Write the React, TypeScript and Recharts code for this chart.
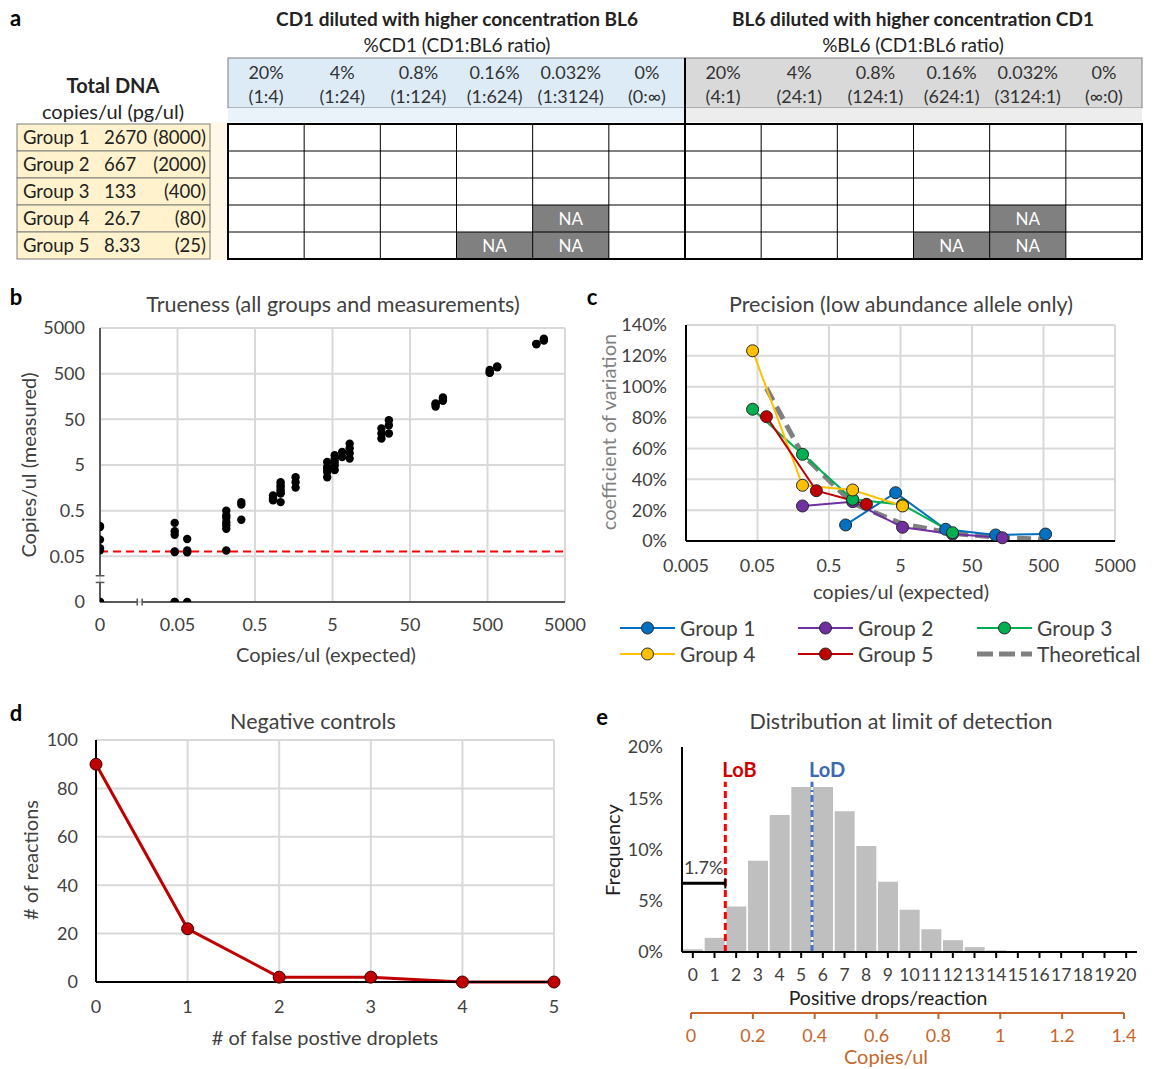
import React from "react";
import {
  ScatterChart,
  Scatter,
  LineChart,
  Line,
  BarChart,
  Bar,
  XAxis,
  YAxis,
  CartesianGrid,
  ReferenceLine,
} from "recharts";

const FONT = "Lato, 'Open Sans', 'DejaVu Sans', sans-serif";
const INK = "#404040";
const GRID = "#D9D9D9";
const ORANGE = "#C8662A";

// ---------- panel a: design table ----------
const cd1Percent = ["20%", "4%", "0.8%", "0.16%", "0.032%", "0%"];
const cd1Ratio = ["(1:4)", "(1:24)", "(1:124)", "(1:624)", "(1:3124)", "(0:∞)"];
const bl6Percent = ["20%", "4%", "0.8%", "0.16%", "0.032%", "0%"];
const bl6Ratio = ["(4:1)", "(24:1)", "(124:1)", "(624:1)", "(3124:1)", "(∞:0)"];
const groupNames = ["Group 1", "Group 2", "Group 3", "Group 4", "Group 5"];
const groupCopies = ["2670", "667", "133", "26.7", "8.33"];
const groupPg = ["(8000)", "(2000)", "(400)", "(80)", "(25)"];
// [row, column] of NA cells, same in both halves
const naCells = [
  [3, 4],
  [4, 3],
  [4, 4],
];

// ---------- panel b: trueness ----------
const ZERO_AT = 0.005; // "0" sits one decade below 0.05 on the log axes
const logTicks = [0.005, 0.05, 0.5, 5, 50, 500, 5000];
const expectedLevels = [
  0, 0.046, 0.0667, 0.213, 0.333, 0.854, 1.07, 1.67, 4.27, 5.34, 6.66, 8.33,
  21.4, 26.7, 107, 133, 534, 667, 2136, 2670,
];
const measuredByLevel = [
  [0.23, 0.22, 0.116, 0.075, 0.068, 0, 0],
  [0.27, 0.177, 0.148, 0.064, 0.062, 0, 0],
  [0.12, 0.067, 0.061, 0],
  [0.5, 0.39, 0.35, 0.28, 0.24, 0.2, 0.067],
  [0.77, 0.68, 0.316],
  [1.08, 0.91, 0.84, 0.95],
  [2.1, 1.8, 1.4, 1.2, 0.77, 1.6, 1.2],
  [2.7, 2.1, 1.6],
  [5.8, 4.5, 4.1, 3.5, 2.7],
  [8.2, 6.9, 5.8, 4.9, 3.9],
  [9.7, 7.5],
  [14.7, 11.6, 9.0, 6.9],
  [31.5, 24.5, 19],
  [48, 37, 24.5],
  [112, 95, 105],
  [150, 128, 140],
  [600, 530, 520],
  [715, 690],
  [2250, 2200],
  [2750, 2900, 2650],
];
const lobCopies = 0.064;

// ---------- panel c: precision ----------
const group1X = [0.854, 4.27, 21.4, 107, 534];
const group1CV = [0.104, 0.313, 0.076, 0.039, 0.045];
const group2X = [0.213, 1.07, 5.34, 26.7, 133];
const group2CV = [0.227, 0.255, 0.089, 0.045, 0.021];
const group3X = [0.0427, 0.213, 1.07, 5.34, 26.7];
const group3CV = [0.854, 0.562, 0.27, 0.235, 0.054];
const group4X = [0.0427, 0.213, 1.07, 5.34];
const group4CV = [1.233, 0.361, 0.331, 0.227];
const group5X = [0.0667, 0.333, 1.67];
const group5CV = [0.806, 0.326, 0.238];
const theoryX = [0.0667, 0.213, 1.07, 5.34, 26.7, 133, 534];
const theoryCV = [0.99, 0.56, 0.245, 0.11, 0.049, 0.022, 0.011];
const cvTicks = [0, 0.2, 0.4, 0.6, 0.8, 1, 1.2, 1.4];

// ---------- panel d: negative controls ----------
const falsePositives = [0, 1, 2, 3, 4, 5];
const reactionCounts = [90, 22, 2, 2, 0, 0];

// ---------- panel e: distribution at LoD ----------
const dropCounts = [0, 1, 2, 3, 4, 5, 6, 7, 8, 9, 10, 11, 12, 13, 14, 15, 16, 17, 18, 19, 20];
const dropFreq = [
  0.0027, 0.0138, 0.0445, 0.089, 0.1337, 0.161, 0.161, 0.1372, 0.1035, 0.0685,
  0.0413, 0.0222, 0.0115, 0.0048, 0.0016, 0.0005, 0.0002, 0, 0, 0, 0,
];
const lobDrops = 1.5;
const lodDrops = 5.5;
const belowLobShare = "1.7%";
const copiesTicks = [0, 0.2, 0.4, 0.6, 0.8, 1, 1.2, 1.4];

const truenessData = expectedLevels.flatMap((e, i) =>
  measuredByLevel[i].map((m) => ({ x: e === 0 ? ZERO_AT : e, y: m === 0 ? ZERO_AT : m }))
);
const toPoints = (xs: number[], ys: number[]) => xs.map((x, i) => ({ x, cv: ys[i] }));
const precisionSeries = [
  { name: "Group 1", color: "#0070C0", data: toPoints(group1X, group1CV) },
  { name: "Group 2", color: "#7030A0", data: toPoints(group2X, group2CV) },
  { name: "Group 3", color: "#00B050", data: toPoints(group3X, group3CV) },
  { name: "Group 4", color: "#FFC000", data: toPoints(group4X, group4CV) },
  { name: "Group 5", color: "#C00000", data: toPoints(group5X, group5CV) },
];
const theoryData = toPoints(theoryX, theoryCV);
const negData = falsePositives.map((x, i) => ({ x, n: reactionCounts[i] }));
const distData = dropCounts.map((d, i) => ({ drops: d, freq: dropFreq[i] }));
const copiesData = copiesTicks.map((cu) => ({ cu, y: 0 }));

const tick = { fill: INK, fontSize: 18, fontFamily: FONT };
const pct = (v: number) => `${Math.round(v * 100)}%`;
const fmtLog = (v: number) => (v === ZERO_AT ? "0" : String(v));

function T({ x, y, size = 20, bold = false, color = INK, rotate = 0, children }: any) {
  return (
    <div
      style={{
        position: "absolute",
        left: x,
        top: y,
        transform: `translate(-50%, -50%) rotate(${rotate}deg)`,
        whiteSpace: "nowrap",
        fontFamily: FONT,
        fontSize: size,
        fontWeight: bold ? 700 : 400,
        color,
        lineHeight: 1,
      }}
    >
      {children}
    </div>
  );
}

function Box({ left, top, children }: any) {
  return <div style={{ position: "absolute", left, top }}>{children}</div>;
}

function DesignTable() {
  const x0 = 228;
  const mid = 685;
  const x1 = 1142;
  const colW = (mid - x0) / 6;
  const top = 124;
  const rowH = 27;
  const halves = [
    { left: x0, pcts: cd1Percent, ratios: cd1Ratio, fill: "#DDEBF7", strip: "#EAF2FA" },
    { left: mid, pcts: bl6Percent, ratios: bl6Ratio, fill: "#D9D9D9", strip: "#EDEDED" },
  ];
  return (
    <svg width={1159} height={265} style={{ position: "absolute", left: 0, top: 0 }} fontFamily={FONT}>
      <text x={10} y={26} fontSize={22} fontWeight={700} fill="#000">a</text>
      <text x={457} y={26} fontSize={19} fontWeight={700} fill="#222" textAnchor="middle">
        CD1 diluted with higher concentration BL6
      </text>
      <text x={457} y={52} fontSize={19} fill="#222" textAnchor="middle">%CD1 (CD1:BL6 ratio)</text>
      <text x={913} y={26} fontSize={19} fontWeight={700} fill="#222" textAnchor="middle">
        BL6 diluted with higher concentration CD1
      </text>
      <text x={913} y={52} fontSize={19} fill="#222" textAnchor="middle">%BL6 (CD1:BL6 ratio)</text>
      <text x={113} y={93} fontSize={20} fontWeight={700} fill="#222" textAnchor="middle">Total DNA</text>
      <text x={113} y={119} fontSize={20} fill="#222" textAnchor="middle">copies/ul (pg/ul)</text>

      {halves.map((h, k) => (
        <g key={k}>
          <rect x={h.left} y={58} width={mid - x0} height={50} fill={h.fill} stroke="#7F7F7F" strokeWidth={1} />
          <rect x={h.left} y={108} width={mid - x0} height={14} fill={h.strip} />
          {h.pcts.map((p, i) => (
            <g key={i}>
              <text x={h.left + colW * (i + 0.5)} y={79} fontSize={18} fill="#333" textAnchor="middle">{p}</text>
              <text x={h.left + colW * (i + 0.5)} y={103} fontSize={18} fill="#333" textAnchor="middle">{h.ratios[i]}</text>
            </g>
          ))}
          {naCells.map(([r, c], i) => (
            <g key={`na${i}`}>
              <rect x={h.left + colW * c} y={top + rowH * r} width={colW} height={rowH} fill="#808080" />
              <text x={h.left + colW * (c + 0.5)} y={top + rowH * r + 20} fontSize={17} fill="#fff" textAnchor="middle">NA</text>
            </g>
          ))}
        </g>
      ))}

      <rect x={210} y={122} width={18} height={138} fill="#FFF8E6" />
      {groupNames.map((g, i) => (
        <g key={g}>
          <rect x={17} y={top + rowH * i} width={193} height={rowH} fill="#FFF2CC" stroke="#7F7F7F" strokeWidth={1} />
          <text x={23} y={top + rowH * i + 20} fontSize={18.5} fill="#222">{g}</text>
          <text x={104} y={top + rowH * i + 20} fontSize={18.5} fill="#222">{groupCopies[i]}</text>
          <text x={206} y={top + rowH * i + 20} fontSize={18.5} fill="#222" textAnchor="end">{groupPg[i]}</text>
        </g>
      ))}

      {/* grid of the table */}
      {[1, 2, 3, 4].map((r) => (
        <line key={`h${r}`} x1={x0} x2={x1} y1={top + rowH * r} y2={top + rowH * r} stroke="#000" strokeWidth={1} />
      ))}
      {Array.from({ length: 11 }, (_, i) => i + 1)
        .filter((i) => i !== 6)
        .map((i) => (
          <line key={`v${i}`} x1={x0 + colW * i} x2={x0 + colW * i} y1={top} y2={top + rowH * 5} stroke="#000" strokeWidth={1} />
        ))}
      <line x1={mid} x2={mid} y1={58} y2={top + rowH * 5} stroke="#000" strokeWidth={2} />
      <rect x={x0} y={top} width={x1 - x0} height={rowH * 5} fill="none" stroke="#000" strokeWidth={2} />
    </svg>
  );
}

function TruenessChart() {
  const axis = { stroke: "#595959", strokeWidth: 2, ifOverflow: "visible" as const };
  return (
    <ScatterChart width={600} height={390} margin={{ top: 48, right: 35, bottom: 18, left: 10 }}>
      <CartesianGrid stroke={GRID} strokeWidth={2} />
      <XAxis
        type="number"
        dataKey="x"
        scale="log"
        domain={[0.005, 5000]}
        ticks={logTicks}
        tickFormatter={fmtLog}
        allowDataOverflow
        axisLine={false}
        tickLine={false}
        tick={tick}
        tickMargin={10}
        height={50}
      />
      <YAxis
        type="number"
        dataKey="y"
        scale="log"
        domain={[0.005, 5000]}
        ticks={logTicks}
        tickFormatter={fmtLog}
        allowDataOverflow
        axisLine={false}
        tickLine={false}
        tick={tick}
        tickMargin={9}
        width={90}
      />
      {/* broken axes */}
      <ReferenceLine segment={[{ x: 0.005, y: 5000 }, { x: 0.005, y: 0.0188 }]} {...axis} />
      <ReferenceLine segment={[{ x: 0.005, y: 0.0134 }, { x: 0.005, y: 0.005 }]} {...axis} />
      <ReferenceLine segment={[{ x: 0.0044, y: 0.0188 }, { x: 0.0057, y: 0.0188 }]} {...axis} strokeWidth={1.5} />
      <ReferenceLine segment={[{ x: 0.0044, y: 0.0134 }, { x: 0.0057, y: 0.0134 }]} {...axis} strokeWidth={1.5} />
      <ReferenceLine segment={[{ x: 0.005, y: 0.005 }, { x: 0.0151, y: 0.005 }]} {...axis} />
      <ReferenceLine segment={[{ x: 0.0175, y: 0.005 }, { x: 5000, y: 0.005 }]} {...axis} />
      <ReferenceLine segment={[{ x: 0.0151, y: 0.0042 }, { x: 0.0151, y: 0.006 }]} {...axis} strokeWidth={1.5} />
      <ReferenceLine segment={[{ x: 0.0175, y: 0.0042 }, { x: 0.0175, y: 0.006 }]} {...axis} strokeWidth={1.5} />
      <ReferenceLine y={lobCopies} stroke="#FF0000" strokeWidth={2} strokeDasharray="8 5" />
      <Scatter
        data={truenessData}
        isAnimationActive={false}
        shape={(p: any) => <circle cx={p.cx} cy={p.cy} r={4.2} fill="#000" />}
      />
    </ScatterChart>
  );
}

function PrecisionChart() {
  return (
    <LineChart width={579} height={390} margin={{ top: 45, right: 44, bottom: 99, left: 0 }}>
      <CartesianGrid stroke={GRID} strokeWidth={2} />
      <XAxis
        type="number"
        dataKey="x"
        scale="log"
        domain={[0.005, 5000]}
        ticks={logTicks}
        tickFormatter={(v: number) => String(v)}
        allowDataOverflow
        axisLine={{ stroke: "#000", strokeWidth: 2 }}
        tickLine={false}
        tick={tick}
        tickMargin={12}
        height={30}
      />
      <YAxis
        type="number"
        domain={[0, 1.4]}
        ticks={cvTicks}
        tickFormatter={pct}
        axisLine={{ stroke: "#000", strokeWidth: 2 }}
        tickLine={false}
        tick={tick}
        tickMargin={13}
        width={106}
      />
      <Line
        data={theoryData}
        dataKey="cv"
        stroke="#808080"
        strokeWidth={5}
        strokeDasharray="14 7"
        dot={false}
        isAnimationActive={false}
      />
      {precisionSeries.map((s) => (
        <Line
          key={s.name}
          data={s.data}
          dataKey="cv"
          name={s.name}
          stroke={s.color}
          strokeWidth={2}
          dot={{ r: 6, fill: s.color, stroke: "#262626", strokeWidth: 1 }}
          isAnimationActive={false}
        />
      ))}
    </LineChart>
  );
}

function PrecisionLegend() {
  const cols = [620, 798, 977];
  const rows = [628, 654];
  const items = [
    ...precisionSeries.map((s) => ({ name: s.name, color: s.color, dashed: false })),
    { name: "Theoretical", color: "#808080", dashed: true },
  ];
  return (
    <svg width={1159} height={80} style={{ position: "absolute", left: 0, top: 600 }} fontFamily={FONT}>
      {items.map((it, i) => {
        const x = cols[i % 3];
        const y = rows[Math.floor(i / 3)] - 600;
        return (
          <g key={it.name}>
            {it.dashed ? (
              <line x1={x} x2={x + 55} y1={y} y2={y} stroke={it.color} strokeWidth={5} strokeDasharray="16 6" />
            ) : (
              <>
                <line x1={x} x2={x + 55} y1={y} y2={y} stroke={it.color} strokeWidth={2} />
                <circle cx={x + 27.5} cy={y} r={6} fill={it.color} stroke="#262626" strokeWidth={1} />
              </>
            )}
            <text x={x + 60} y={y + 7.5} fontSize={21} fill={INK}>{it.name}</text>
          </g>
        );
      })}
    </svg>
  );
}

function NegativeChart() {
  return (
    <LineChart width={580} height={379} margin={{ top: 50, right: 26, bottom: 57, left: 0 }}>
      <CartesianGrid stroke={GRID} strokeWidth={2} />
      <XAxis
        type="number"
        dataKey="x"
        domain={[0, 5]}
        ticks={falsePositives}
        axisLine={{ stroke: "#000", strokeWidth: 2 }}
        tickLine={false}
        tick={tick}
        tickMargin={12}
        height={30}
      />
      <YAxis
        type="number"
        domain={[0, 100]}
        ticks={[0, 20, 40, 60, 80, 100]}
        axisLine={{ stroke: "#000", strokeWidth: 2 }}
        tickLine={false}
        tick={tick}
        tickMargin={12}
        width={96}
      />
      <Line
        data={negData}
        dataKey="n"
        stroke="#C00000"
        strokeWidth={3}
        dot={{ r: 6, fill: "#C00000", stroke: "#3A0000", strokeWidth: 1 }}
        isAnimationActive={false}
      />
    </LineChart>
  );
}

function DistributionChart() {
  return (
    <BarChart
      width={579}
      height={300}
      data={distData}
      margin={{ top: 57, right: 22, bottom: 8, left: 0 }}
      barCategoryGap={1}
    >
      <XAxis
        dataKey="drops"
        interval={0}
        axisLine={{ stroke: "#000", strokeWidth: 2 }}
        tickLine={{ stroke: "#000", strokeWidth: 2 }}
        tickSize={6}
        tick={{ ...tick, fontSize: 17.5 }}
        tickMargin={11}
        height={30}
      />
      <XAxis xAxisId="num" type="number" dataKey="drops" domain={[-0.5, 20.5]} allowDataOverflow hide />
      <YAxis
        type="number"
        domain={[0, 0.2]}
        ticks={[0, 0.05, 0.1, 0.15, 0.2]}
        tickFormatter={pct}
        axisLine={{ stroke: "#000", strokeWidth: 2 }}
        tickLine={false}
        tick={tick}
        tickMargin={13}
        width={102}
      />
      <Bar dataKey="freq" fill="#BFBFBF" isAnimationActive={false} />
      <ReferenceLine
        xAxisId="num"
        segment={[{ x: lobDrops, y: 0 }, { x: lobDrops, y: 0.166 }]}
        stroke="#FF0000"
        strokeWidth={3}
        strokeDasharray="7 4"
        label={(p: any) => (
          <text x={p.viewBox.x - 3} y={p.viewBox.y - 5} fontFamily={FONT} fontSize={20} fontWeight={700} fill="#D00000">
            LoB
          </text>
        )}
      />
      <ReferenceLine
        xAxisId="num"
        segment={[{ x: lodDrops, y: 0 }, { x: lodDrops, y: 0.166 }]}
        stroke="#4472C4"
        strokeWidth={3}
        strokeDasharray="7 3 2 3"
        label={(p: any) => (
          <text x={p.viewBox.x - 3} y={p.viewBox.y - 5} fontFamily={FONT} fontSize={20} fontWeight={700} fill="#3C68B8">
            LoD
          </text>
        )}
      />
      <ReferenceLine
        xAxisId="num"
        segment={[{ x: -0.5, y: 0.067 }, { x: lobDrops, y: 0.067 }]}
        stroke="#000"
        strokeWidth={3}
        ifOverflow="visible"
        label={(p: any) => (
          <text x={p.viewBox.x + p.viewBox.width / 2} y={p.viewBox.y - 9} textAnchor="middle" fontFamily={FONT} fontSize={18} fill={INK}>
            {belowLobShare}
          </text>
        )}
      />
      <ReferenceLine xAxisId="num" segment={[{ x: -0.5, y: 0.062 }, { x: -0.5, y: 0.072 }]} stroke="#000" strokeWidth={2} ifOverflow="visible" />
      <ReferenceLine xAxisId="num" segment={[{ x: lobDrops, y: 0.062 }, { x: lobDrops, y: 0.072 }]} stroke="#000" strokeWidth={2} />
    </BarChart>
  );
}

function CopiesAxis() {
  return (
    <LineChart width={579} height={79} data={copiesData} margin={{ top: 13, right: 35, bottom: 26, left: 111 }}>
      <XAxis
        type="number"
        dataKey="cu"
        domain={[0, 1.4]}
        ticks={copiesTicks}
        allowDataOverflow
        axisLine={{ stroke: ORANGE, strokeWidth: 2 }}
        tickLine={{ stroke: ORANGE, strokeWidth: 2 }}
        tickSize={6}
        tick={{ ...tick, fill: ORANGE }}
        tickMargin={10}
        height={30}
      />
      <YAxis hide domain={[0, 1]} />
      <Line dataKey="y" stroke="none" dot={false} isAnimationActive={false} />
    </LineChart>
  );
}

export default function App() {
  return (
    <div
      style={{
        position: "absolute",
        left: 0,
        top: 0,
        width: 1159,
        height: 1069,
        background: "#fff",
        fontFamily: FONT,
        overflow: "hidden",
      }}
    >
      <DesignTable />

      <Box left={0} top={280}>
        <TruenessChart />
      </Box>
      <Box left={580} top={280}>
        <PrecisionChart />
      </Box>
      <PrecisionLegend />
      <Box left={0} top={690}>
        <NegativeChart />
      </Box>
      <Box left={580} top={690}>
        <DistributionChart />
      </Box>
      <Box left={580} top={990}>
        <CopiesAxis />
      </Box>

      <T x={16} y={297} size={22} bold color="#000">b</T>
      <T x={333} y={305} size={21.5}>Trueness (all groups and measurements)</T>
      <T x={28} y={465} size={20} rotate={-90}>Copies/ul (measured)</T>
      <T x={326} y={654} size={20}>Copies/ul (expected)</T>

      <T x={592} y={297} size={22} bold color="#000">c</T>
      <T x={901} y={305} size={21.5}>Precision (low abundance allele only)</T>
      <T x={608} y={432} size={20} rotate={-90} color="#7F7F7F">coefficient of variation</T>
      <T x={901} y={591} size={20}>copies/ul (expected)</T>

      <T x={16} y={713} size={22} bold color="#000">d</T>
      <T x={313} y={722} size={21.5}>Negative controls</T>
      <T x={30} y={860} size={20} rotate={-90}>
        # of reactions
      </T>
      <T x={325} y={1037} size={20}># of false postive droplets</T>

      <T x={602} y={717} size={22} bold color="#000">e</T>
      <T x={901} y={722} size={21.5}>Distribution at limit of detection</T>
      <T x={612} y={850} size={20} rotate={-90} color="#222">Frequency</T>
      <T x={888} y={998} size={19.5} color="#222">Positive drops/reaction</T>
      <T x={886} y={1056} size={20} color={ORANGE}>Copies/ul</T>
    </div>
  );
}
